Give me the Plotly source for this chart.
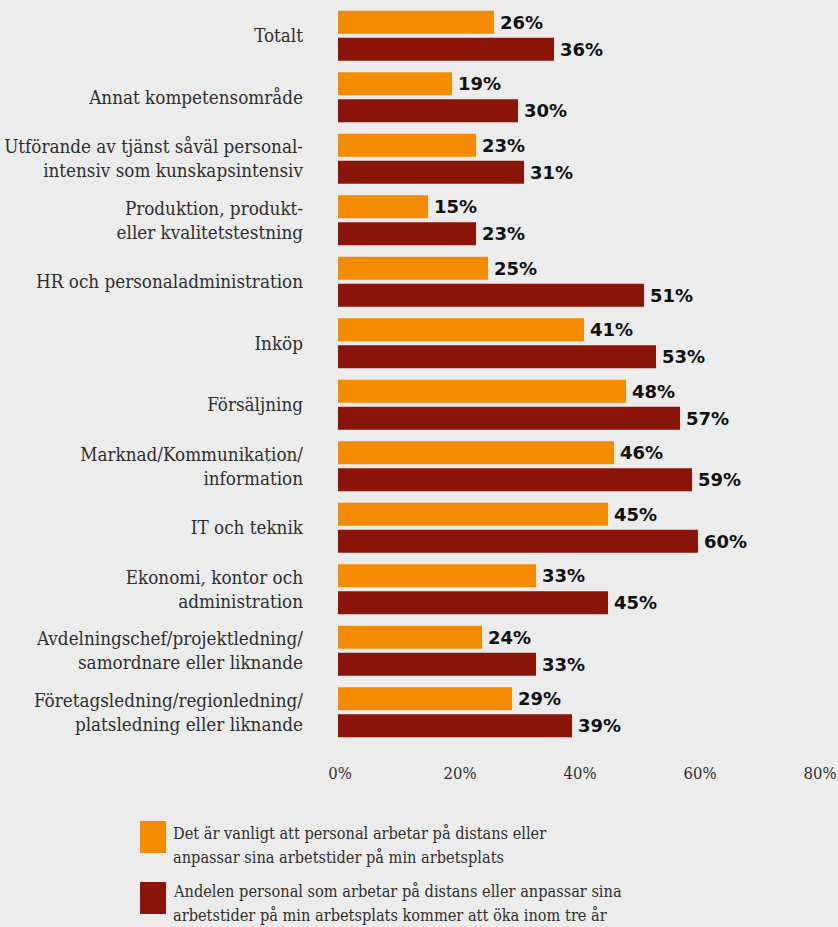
import plotly.graph_objects as go

# Survey categories (top to bottom) and the two measured shares, in percent
categories = [
    "Totalt",
    "Annat kompetensområde",
    "Utförande av tjänst såväl personal-<br>intensiv som kunskapsintensiv",
    "Produktion, produkt-<br>eller kvalitetstestning",
    "HR och personaladministration",
    "Inköp",
    "Försäljning",
    "Marknad/Kommunikation/<br>information",
    "IT och teknik",
    "Ekonomi, kontor och<br>administration",
    "Avdelningschef/projektledning/<br>samordnare eller liknande",
    "Företagsledning/regionledning/<br>platsledning eller liknande",
]
common_now = [26, 19, 23, 15, 25, 41, 48, 46, 45, 33, 24, 29]
increase_3y = [36, 30, 31, 23, 51, 53, 57, 59, 60, 45, 33, 39]

series_lines = [
    ["Det är vanligt att personal arbetar på distans eller",
     "anpassar sina arbetstider på min arbetsplats"],
    ["Andelen personal som arbetar på distans eller anpassar sina",
     "arbetstider på min arbetsplats kommer att öka inom tre år"],
]
x_ticks = [0, 20, 40, 60, 80]
x_tick_text = ["0%", "20%", "40%", "60%", "80%"]

ORANGE = "#f38c00"
DARKRED = "#8a1408"
BG = "#ececec"
TEXT = "#2e2e2e"
SERIF = "DejaVu Serif Condensed, DejaVu Serif, serif"
SANS_BOLD = "DejaVu Sans, sans-serif"

W, H = 838, 927
ML, MR, MT, MB = 338, 20, 5, 184
PW, PH = W - ML - MR, H - MT - MB


def px_x(p):
    return (p - ML) / PW


def px_y(p):
    return (H - MB - p) / PH


fig = go.Figure()
for vals, color, lines in [(common_now, ORANGE, series_lines[0]),
                           (increase_3y, DARKRED, series_lines[1])]:
    fig.add_trace(go.Bar(
        y=categories, x=vals, orientation="h", name=" ".join(lines),
        marker=dict(color=color, line=dict(width=0)),
        showlegend=False, hoverinfo="skip",
    ))

# value labels next to each bar end
bar_gap = 0.121
group_gap = 0.148
half_offset = (1 - bar_gap) / 4
annotations = []
for i, (a, b) in enumerate(zip(common_now, increase_3y)):
    for v, off in ((a, -half_offset), (b, half_offset)):
        annotations.append(dict(
            x=v, y=i + off, xref="x", yref="y", text=f"<b>{v}%</b>",
            showarrow=False, xanchor="left", yanchor="middle", xshift=4,
            font=dict(family=SANS_BOLD, size=18, color="#111111"),
        ))

# legend drawn as swatches with text lines beside them
shapes = []
for (y0, y1), color, lines, line_y in [((821, 853), ORANGE, series_lines[0], (833, 857)),
                                       ((882, 914), DARKRED, series_lines[1], (891, 915))]:
    shapes.append(dict(type="rect", xref="paper", yref="paper",
                       x0=px_x(140), x1=px_x(166), y0=px_y(y1), y1=px_y(y0),
                       fillcolor=color, line=dict(width=0)))
    for txt, ty in zip(lines, line_y):
        annotations.append(dict(
            x=px_x(171), y=px_y(ty), xref="paper", yref="paper", text=txt,
            showarrow=False, xanchor="left", yanchor="middle", align="left",
            font=dict(family=SERIF, size=16.2, color=TEXT),
        ))

fig.update_layout(
    width=W, height=H,
    margin=dict(l=ML, r=MR, t=MT, b=MB, autoexpand=False),
    paper_bgcolor=BG, plot_bgcolor=BG,
    barmode="group", bargap=bar_gap, bargroupgap=group_gap,
    annotations=annotations, shapes=shapes,
    xaxis=dict(range=[0, 80], tickvals=x_ticks, ticktext=x_tick_text,
               showgrid=False, zeroline=False, showline=False,
               automargin=False,
               ticks="", ticklabelstandoff=18, ticklabelshift=2,
               ticklabeloverflow="allow",
               tickfont=dict(family=SERIF, size=16.5, color=TEXT)),
    yaxis=dict(autorange="reversed", showgrid=False, zeroline=False,
               showline=False, ticks="", ticklabelstandoff=34,
               automargin=False,
               tickfont=dict(family=SERIF, size=18.7, color=TEXT)),
)

fig.write_html("out.html")
